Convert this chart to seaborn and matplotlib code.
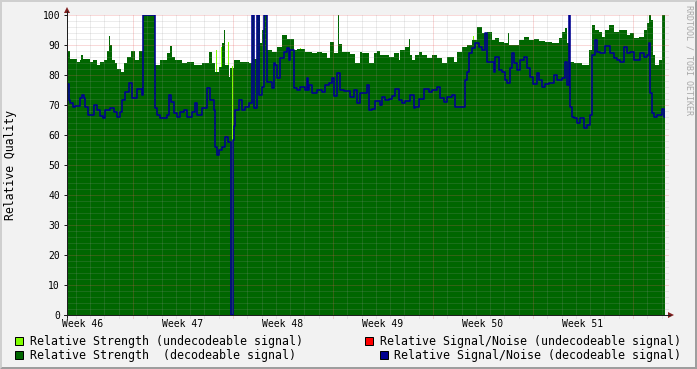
import numpy as np
import matplotlib
matplotlib.use("Agg")
import matplotlib.pyplot as plt
import matplotlib.transforms as mtransforms
from matplotlib.patches import Rectangle, Polygon
from matplotlib.lines import Line2D
import seaborn as sns

# ---------------- data ----------------
# time is counted in RRD rows since Monday of week 46; one row = 1/100 week
STEP_DAYS = 0.07
START_STEP = 34
END_STEP = 632

# Relative Strength (decodeable signal): start row of each run, value
strength_dec_steps = [34, 37, 44, 47, 48, 50, 57, 60, 64, 67, 71, 74, 76, 77, 79, 82, 84, 88, 91, 94,
                      98, 102, 106, 110, 122, 127, 134, 137, 139, 142, 149, 154, 161, 169, 176, 179,
                      182, 186, 189, 191, 192, 196, 197, 199, 200, 201, 207, 216, 219, 221, 224, 227,
                      229, 231, 234, 239, 244, 249, 254, 261, 264, 272, 279, 284, 289, 294, 297, 301,
                      305, 306, 309, 317, 322, 327, 329, 336, 341, 344, 347, 356, 361, 366, 367, 372,
                      376, 377, 379, 382, 386, 389, 394, 399, 404, 409, 414, 421, 424, 429, 434, 439,
                      444, 449, 454, 459, 462, 466, 471, 475, 476, 486, 491, 496, 501, 506, 512, 519,
                      526, 529, 532, 534, 536, 537, 541, 549, 556, 559, 562, 566, 569, 572, 576, 581,
                      586, 594, 597, 601, 606, 611, 614, 616, 618, 620, 622, 626, 629]
strength_dec_vals = [88, 85.5, 84.5, 85, 86.7, 85.5, 84.5, 85, 83.5, 84.5, 85, 88, 93, 90, 85, 84, 82, 81, 84, 86,
                     88, 85, 88, 100, 83.5, 85, 87.2, 89.7, 86.1, 85, 83.9, 84.5, 83.3, 83.9, 87.8, 83.9,
                     81.1, 82.8, 90.6, 95, 83.3, 79.4, 82.2, 0, 82.2, 85, 84.5, 83.9, 100, 85.2, 100, 90.6,
                     95, 100, 88.3, 87.8, 89.4, 93.3, 91.9, 88.3, 88.6, 87.8, 87.2, 87.8, 87.2, 85.6, 90.9, 87.2,
                     100, 90.2, 87.8, 87, 84.1, 87.8, 87.4, 84.1, 87.2, 88, 86.7, 86.1, 87.2, 85, 88.3, 89.4,
                     91.9, 86.7, 85, 86.7, 87.8, 86.7, 85.6, 86.7, 85.6, 83.9, 86.1, 84.5, 87.8, 89.5, 90, 91.7,
                     96.1, 93.9, 94.5, 91.7, 92.2, 91.1, 90.6, 93.9, 90, 91.7, 92.8, 91.7, 91.9, 91.4, 91.1, 90.6,
                     92.2, 94.4, 95.6, 90.6, 100, 84.4, 83.9, 83.3, 88.3, 96.7, 95, 94.4, 92.8, 95, 96.7, 94.4,
                     95, 93.3, 93.9, 92.2, 92.8, 95, 97.2, 100, 98.3, 86.7, 83.3, 85, 100]

# Relative Strength (undecodeable signal)
strength_undec_steps = [34, 183, 184, 188, 189, 195, 196, 199, 200, 250, 251, 267, 268, 440, 441]
strength_undec_vals = [0, 88.5, 0, 89.5, 0, 91, 0, 83, 0, 93, 0, 89, 0, 93, 0]

# Relative Signal/Noise (decodeable signal)
snr_dec_steps = [34, 36, 37, 40, 42, 47, 49, 51, 52, 55, 61, 64, 67, 70, 72, 77, 81, 84, 87, 89,
                 92, 96, 99, 104, 109, 110, 122, 124, 127, 134, 136, 138, 141, 144, 147, 151, 154, 159,
                 162, 164, 169, 174, 177, 181, 182, 184, 186, 189, 192, 195, 198, 200, 201, 202, 206,
                 209, 212, 216, 219, 221, 224, 226, 229, 231, 234, 239, 241, 242, 244, 247, 251, 254,
                 256, 257, 261, 264, 267, 272, 274, 275, 276, 279, 284, 289, 292, 296, 299, 301, 304,
                 307, 311, 317, 321, 324, 327, 334, 336, 339, 342, 347, 349, 352, 356, 359, 362, 366,
                 369, 372, 377, 381, 382, 386, 391, 396, 399, 404, 407, 411, 414, 419, 422, 432, 434,
                 436, 439, 442, 446, 449, 452, 454, 461, 462, 466, 469, 472, 474, 477, 479, 481, 484,
                 487, 491, 494, 497, 500, 504, 506, 509, 512, 516, 521, 524, 529, 532, 534, 536, 537,
                 539, 541, 544, 547, 551, 554, 557, 559, 562, 564, 567, 572, 577, 581, 584, 587, 591,
                 594, 597, 601, 607, 611, 614, 616, 617, 619, 621, 624, 629, 631]
snr_dec_vals = [77, 71.7, 70.6, 69.5, 69.8, 72.2, 73.3, 72.2, 69.5, 66.7, 70, 68.3, 66.3, 65.6, 68.3, 69, 67.8, 66.1, 67.8, 71.7,
                74.4, 77.2, 72.2, 75.2, 73.3, 100, 69, 66.7, 65.6, 66.7, 73.3, 71.1, 67.2, 66.1, 67.8, 68.3, 66.1, 67.8,
                70.6, 66.7, 69, 75.6, 71.7, 68.3, 56.1, 53.3, 55, 56.1, 59.4, 57.8, 0, 58.3, 63, 68.3, 71.7,
                68.3, 69.5, 70.6, 100, 69, 100, 73.3, 76.1, 100, 77.8, 75.6, 83.9, 83.3, 78.9, 85.6, 87.8, 88.9,
                85, 88.3, 75.6, 75, 76.1, 75, 78.9, 75, 76.7, 73.9, 75, 74.4, 76.7, 77.2, 78.9, 73, 80.6,
                75, 74.8, 72.8, 75, 70.6, 73.9, 76.7, 68.3, 68.6, 71.4, 70, 72.8, 71.7, 71.9, 73, 75.2, 71.7,
                70.6, 71.4, 73.3, 69, 69.5, 71.9, 75.2, 74.4, 75, 76.1, 72.2, 71.1, 72.6, 73.3, 69.5, 78.3, 81.1,
                87.2, 88.9, 90.6, 89.4, 88.3, 93.9, 84.4, 81.1, 86.1, 81.7, 81.1, 78.3, 77.5, 82.2, 87.2, 83.9, 81.7,
                85, 85.9, 82.2, 79.4, 77, 80.6, 78.3, 75.9, 77, 77.5, 80, 78.3, 78.9, 84.4, 76.7, 100, 69.5,
                66.1, 65.6, 63.9, 65.6, 62.2, 63.3, 66.7, 86.7, 91.7, 87.8, 87.2, 89.7, 87.2, 85.6, 85, 84.4, 89.4,
                87.2, 87.8, 85, 87.4, 86.1, 86.7, 90.6, 73.9, 67.2, 66.1, 66.7, 68.6, 66.1]

week_labels = ["Week 46", "Week 47", "Week 48", "Week 49", "Week 50", "Week 51"]
y_ticks = [0, 10, 20, 30, 40, 50, 60, 70, 80, 90, 100]
legend_labels = ["Relative Strength (undecodeable signal)",
                 "Relative Signal/Noise (undecodeable signal)",
                 "Relative Strength  (decodeable signal)",
                 "Relative Signal/Noise (decodeable signal)"]

# ---------------- style ----------------
C_BACK = "#F2F2F2"
C_SHADEA = "#CFCFCF"
C_SHADEB = "#9E9E9E"
C_GRID = (0.6, 0.6, 0.6, 0.36)
C_MGRID = (0.9, 0.35, 0.35, 0.45)
C_ARROW = (0.5, 0.12, 0.12)
C_AXIS = (0.12, 0.12, 0.12)
C_DARK = "#006600"
C_LIGHT = "#80FF00"
C_BLUE = "#000090"
C_RED = "#FF0000"

sns.set_style("white")
plt.rcParams["font.family"] = ["DejaVu Sans Mono"]

W, H = 697, 369
fig = plt.figure(figsize=(W / 100, H / 100), dpi=100, facecolor=C_BACK)

def fx(x):
    return x / W

def fy(y):
    return 1 - y / H

PX = 72 / 100  # one pixel in points

# 3D frame
fig.patches.append(Polygon([(0, 0), (0, 1), (1, 1), (fx(W - 2), fy(2)), (fx(2), fy(2)), (fx(2), fy(H - 2))],
                           closed=True, transform=fig.transFigure, facecolor=C_SHADEA, edgecolor="none"))
fig.patches.append(Polygon([(0, 0), (1, 0), (1, 1), (fx(W - 2), fy(2)), (fx(W - 2), fy(H - 2)), (fx(2), fy(H - 2))],
                           closed=True, transform=fig.transFigure, facecolor=C_SHADEB, edgecolor="none"))

L, R, T, B = 67, 665, 15, 315
ax = fig.add_axes([fx(L), fy(B), (R - L) / W, (B - T) / H])
ax.set_facecolor("white")
for s in ax.spines.values():
    s.set_visible(False)

def series(steps, vals):
    t = np.array(list(steps) + [END_STEP], dtype=float) * STEP_DAYS
    v = np.array(list(vals) + [vals[-1]], dtype=float)
    return t, v

t_u, v_u = series(strength_undec_steps, strength_undec_vals)
t_d, v_d = series(strength_dec_steps, strength_dec_vals)
t_b, v_b = series(snr_dec_steps, snr_dec_vals)

ax.fill_between(t_u, v_u, step="post", color=C_LIGHT, lw=0, zorder=1)
ax.fill_between(t_d, v_d, step="post", color=C_DARK, lw=0, zorder=2)

x0, x1 = START_STEP * STEP_DAYS, END_STEP * STEP_DAYS
ax.set_xlim(x0, x1)
ax.set_ylim(0, 100)

# grid (drawn over the areas, dotted like rrdtool)
ext_x = 2.5 / (R - L)
ext_y = 2.5 / (B - T)
trans_h = mtransforms.blended_transform_factory(ax.transAxes, ax.transData)
trans_v = mtransforms.blended_transform_factory(ax.transData, ax.transAxes)
for v in range(2, 101, 2):
    major = v % 10 == 0
    ax.add_line(Line2D([0, 1 + ext_x], [v, v], transform=trans_h, clip_on=False,
                       color=C_MGRID if major else C_GRID, lw=PX, ls=(0, (1, 1)), zorder=3))
for d in range(int(np.ceil(x0)), int(x1) + 1):
    major = d % 7 == 0
    ax.add_line(Line2D([d, d], [-ext_y, 1], transform=trans_v, clip_on=False,
                       color=C_MGRID if major else C_GRID, lw=PX, ls=(0, (1, 1)), zorder=3))

sns.lineplot(x=t_b, y=v_b, ax=ax, color=C_BLUE, lw=1.6 * PX, drawstyle="steps-post",
             estimator=None, sort=False, zorder=4)

# axis ticks and labels
ax.set_xticks([])
ax.set_yticks(y_ticks)
ax.set_yticklabels([str(v) for v in y_ticks], fontsize=7)
ax.tick_params(axis="y", which="major", left=True, length=3 * PX, width=PX, color=C_AXIS,
               pad=4 * PX, labelcolor="black", direction="out")
ax.set_xlabel("")
ax.set_ylabel("")

for i, lab in enumerate(week_labels):
    xc = i * 7 + 3.5
    ax.text(xc, -(324 - B) / (B - T), lab, transform=trans_v, ha="center", va="center",
            fontsize=7, color="black")

# axis lines with arrows
fig.add_artist(Line2D([fx(L), fx(L)], [fy(B + 3), fy(11)], transform=fig.transFigure, color=C_AXIS, lw=PX))
fig.add_artist(Line2D([fx(L - 3), fx(670)], [fy(B), fy(B)], transform=fig.transFigure, color=C_AXIS, lw=PX))
fig.patches.append(Polygon([(fx(L - 3), fy(13)), (fx(L + 3), fy(13)), (fx(L), fy(7))], closed=True,
                           transform=fig.transFigure, facecolor=C_ARROW, edgecolor="none"))
fig.patches.append(Polygon([(fx(668), fy(B - 3)), (fx(668), fy(B + 3)), (fx(674), fy(B))], closed=True,
                           transform=fig.transFigure, facecolor=C_ARROW, edgecolor="none"))

# y-axis title
fig.text(fx(11), fy(165), "Relative Quality", rotation=90, ha="center", va="center",
         fontsize=8.3, color="black")

# watermark
fig.text(fx(688.5), fy(5), "RRDTOOL / TOBI OETIKER", rotation=270, ha="center", va="top",
         fontsize=6, color="#A8A8A8")

# legend
legend_items = [
    (C_LIGHT, 15, 337, 30, 341, legend_labels[0]),
    (C_RED, 365, 337, 380, 341, legend_labels[1]),
    (C_DARK, 15, 351, 30, 355, legend_labels[2]),
    (C_BLUE, 380, 351, 394, 355, legend_labels[3]),
]
for col, bx, by, tx, ty, lab in legend_items:
    fig.patches.append(Rectangle((fx(bx), fy(by + 8)), 8 / W, 8 / H, transform=fig.transFigure,
                                 facecolor=col, edgecolor="black", lw=PX))
    fig.text(fx(tx), fy(ty), lab, ha="left", va="center", fontsize=8.4, color="black")

fig.savefig("out.png", dpi=100, facecolor=C_BACK)
